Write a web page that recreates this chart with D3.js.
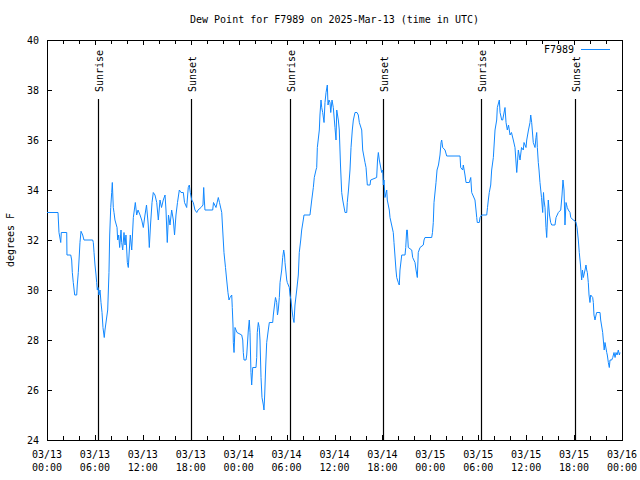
<!DOCTYPE html>
<html>
<head>
<meta charset="utf-8">
<script src="https://cdn.jsdelivr.net/npm/d3@7"></script>
<style>
  html, body { margin: 0; padding: 0; background: #fff; }
  svg { display: block; }
  text { font-family: "DejaVu Sans Mono", "Liberation Mono", monospace; font-size: 10px; fill: #000; }
</style>
</head>
<body>
<svg id="chart" width="640" height="480"></svg>
<script>
// ---- data (hours since 2025-03-13 00:00 UTC, dew point in °F) ----
const hours = [0,1.38,1.50,1.72,1.79,2.47,2.50,2.97,3.09,3.17,3.29,3.47,3.72,3.79,3.92,4.01,4.13,4.26,4.47,4.63,5.72,5.80,5.89,6.01,6.14,6.22,6.30,6.39,6.51,6.64,6.76,6.89,7.01,7.17,7.26,7.60,7.76,7.85,7.98,8.10,8.18,8.30,8.39,8.51,8.77,8.85,8.98,9.10,9.27,9.35,9.48,9.64,9.77,9.89,10.06,10.18,10.31,10.43,10.61,10.81,11.06,11.23,11.40,11.65,11.86,12.06,12.27,12.46,12.68,12.81,12.96,13.15,13.31,13.52,13.74,13.94,14.15,14.34,14.56,14.78,14.90,15.06,15.21,15.40,15.61,15.82,15.97,16.15,16.34,16.57,16.78,17.07,17.22,17.49,17.69,17.82,17.94,18.12,18.32,18.53,18.75,18.91,19.28,19.53,19.62,19.70,19.78,20.75,20.85,21.16,21.45,21.60,21.88,22.00,22.16,22.35,22.50,22.66,22.79,22.92,23.13,23.20,23.29,23.33,23.42,23.54,23.79,24.38,24.51,24.58,24.67,24.92,25.01,25.21,25.33,25.42,25.54,25.63,25.76,26.17,26.26,26.33,26.46,26.58,26.67,26.80,26.92,27.09,27.17,27.26,27.39,27.51,27.71,27.84,28.26,28.34,28.49,28.61,28.76,28.86,28.96,29.09,29.18,29.39,29.51,29.64,29.74,29.80,30.02,30.09,30.34,30.43,30.55,30.68,30.80,30.93,31.05,31.27,31.47,31.59,31.77,31.89,32.09,32.18,32.93,33.15,33.35,33.47,33.68,33.77,33.85,34.10,34.18,34.31,34.40,34.52,34.69,34.81,34.94,35.10,35.19,35.31,35.44,35.53,35.69,35.85,36.06,36.19,36.28,36.48,36.60,36.75,36.90,37.03,37.32,37.53,37.60,37.75,37.94,38.07,38.23,38.36,38.57,38.82,38.98,39.11,39.41,39.53,39.82,39.95,40.11,40.45,40.53,41.28,41.39,41.49,41.61,41.91,42.04,42.11,42.20,42.32,42.54,42.61,42.86,42.95,43.36,43.45,43.70,43.79,43.99,44.11,44.20,44.42,44.83,44.92,45.04,45.12,45.24,45.67,45.79,46.08,46.21,46.37,46.49,46.71,47.12,47.21,47.33,48.17,48.27,48.37,48.46,48.71,48.84,49.02,49.21,49.34,49.42,49.55,49.84,50.05,51.72,51.80,52.05,52.13,52.34,52.47,52.88,53.06,53.18,53.59,53.72,53.81,53.88,54.13,54.22,54.43,55.06,55.16,55.26,55.38,55.56,55.68,55.89,56.10,56.31,56.39,56.64,56.73,56.94,57.06,57.35,57.48,57.64,57.79,57.98,58.16,58.39,58.60,58.82,59.02,59.23,59.42,59.64,59.73,59.98,60.07,60.29,60.48,60.57,60.69,60.89,61.11,61.23,61.32,61.40,61.52,61.61,61.73,61.92,62.07,62.17,62.23,62.36,62.48,62.57,62.77,62.92,63.07,63.20,63.61,63.74,64.03,64.33,64.49,64.61,64.74,64.86,64.99,65.15,65.28,65.49,65.58,65.90,65.99,66.24,66.37,66.53,66.65,66.80,66.95,67.05,67.16,67.37,67.49,67.58,67.66,67.78,67.87,67.99,68.08,68.33,68.41,68.49,68.62,68.75,68.83,69.25,69.33,69.58,69.66,69.77,69.87,70.09,70.16,70.29,70.41,70.50,70.71,70.84,71.00,71.13,71.25,71.38,71.54,71.67,71.75];
const dewPoint = [33.1,33.1,32.3,31.9,32.3,32.3,31.4,31.4,31.2,30.7,30.3,29.8,29.8,30.2,30.7,31.2,31.9,32.35,32.2,32.0,32.0,31.9,31.5,31.0,30.6,30.3,30.0,30.1,29.8,30.0,29.5,29.1,28.5,28.1,28.4,29.2,30.7,32.2,33.3,33.9,34.3,33.3,33.1,32.8,32.5,32.0,32.2,31.7,32.4,31.9,31.6,32.3,31.8,32.2,31.1,30.9,31.6,32.2,31.6,32.9,33.5,33.0,33.2,33.0,32.8,32.5,33.0,33.4,32.6,31.7,32.6,33.5,33.9,33.8,33.5,32.8,33.6,33.3,33.6,33.8,33.2,31.9,33.0,32.6,33.2,32.8,32.2,33.0,33.5,34.0,33.9,33.9,33.5,33.3,34.1,34.2,33.9,33.6,33.5,33.2,33.1,33.2,33.3,33.4,34.1,33.6,33.2,33.2,33.5,33.3,33.7,33.5,33.1,32.4,31.5,30.9,30.4,29.9,29.6,29.7,29.8,29.3,28.6,27.9,27.5,28.5,28.3,28.2,28.0,27.5,27.2,27.2,27.4,28.4,28.8,28.3,26.7,26.2,26.9,26.9,27.3,28.3,28.7,28.5,28.0,26.5,25.7,25.4,25.2,25.8,27.0,27.9,28.4,28.7,28.7,29.0,29.4,29.7,29.5,29.0,29.2,29.7,30.3,30.8,31.3,31.6,31.4,31.1,30.4,30.3,30.1,29.8,29.6,29.2,28.9,28.7,29.4,30.0,30.6,31.5,32.0,32.4,32.8,33.0,33.0,33.6,34.1,34.5,34.8,34.9,35.7,36.4,37.0,37.6,37.3,37.1,36.7,37.5,37.9,38.2,37.4,37.6,37.5,37.1,37.6,37.3,36.5,36.0,37.2,36.8,36.4,35.0,33.9,33.6,33.1,33.1,33.5,34.0,34.8,35.7,36.4,36.8,37.1,37.1,37.0,36.7,36.4,35.6,35.1,34.9,34.2,34.2,34.4,34.5,35.2,35.5,35.2,34.7,34.8,34.2,34.4,33.7,34.0,33.6,33.2,32.9,32.3,31.9,30.8,30.5,30.3,30.2,30.8,31.4,31.4,31.7,32.4,32.4,31.7,31.6,31.3,31.1,30.8,30.5,31.5,31.7,31.8,32.0,32.1,32.1,32.3,32.7,33.5,34.3,34.8,35.0,35.4,35.9,36.0,35.7,35.6,35.36,35.36,34.9,34.8,35.0,34.6,34.3,34.3,34.5,33.9,33.6,33.2,32.9,32.7,32.7,32.9,33.0,33.0,33.3,33.6,33.9,34.2,34.8,35.3,36.4,36.8,37.3,37.6,37.1,36.8,36.8,37.3,36.7,36.4,36.6,36.2,36.3,36.0,35.7,34.7,35.6,35.2,35.7,35.6,35.9,35.7,36.0,36.4,36.7,37.0,36.7,35.9,35.7,36.1,36.3,35.7,35.1,34.8,34.3,33.7,33.1,33.9,33.6,33.3,32.5,32.1,33.6,33.0,32.7,32.6,32.6,32.9,33.1,33.2,33.8,34.4,34.0,32.6,33.5,33.3,33.2,33.1,32.9,32.8,32.8,32.7,32.5,32.0,31.5,31.0,30.4,30.8,30.5,30.8,31.0,30.8,30.7,30.3,29.8,29.5,29.8,29.7,29.5,29.0,28.8,29.0,29.1,29.1,28.8,28.3,28.0,27.6,27.9,27.5,27.4,27.1,26.9,27.2,27.2,27.3,27.5,27.3,27.5,27.4,27.6,27.4,27.5];
const sunriseHours = [6.42, 30.45, 54.38];
const sunsetHours = [18.07, 42.10, 66.15];
const yTicks = [24, 26, 28, 30, 32, 34, 36, 38, 40];
const seriesName = "F7989";
const titleText = "Dew Point for F7989 on 2025-Mar-13 (time in UTC)";
const yLabel = "degrees F";

// ---- drawing ----
const start = Date.UTC(2025, 2, 13);
const toDate = h => new Date(start + h * 3600000);
const margin = {left: 47, top: 40, right: 18, bottom: 40};
const W = 640, H = 480;
const iw = W - margin.left - margin.right, ih = H - margin.top - margin.bottom;

const svg = d3.select("#chart");
const g = svg.append("g").attr("transform", `translate(${margin.left},${margin.top})`);

const x = d3.scaleUtc().domain([toDate(0), toDate(72)]).range([0, iw]);
const y = d3.scaleLinear().domain([24, 40]).range([ih, 0]);

const majorTicks = d3.range(0, 73, 6).map(toDate);
const minorTicks = d3.range(0, 73, 2).filter(h => h % 6 !== 0).map(toDate);
const fmtDate = d3.utcFormat("%m/%d"), fmtTime = d3.utcFormat("%H:%M");

// bottom axis
const xb = g.append("g").attr("transform", `translate(0,${ih})`)
  .call(d3.axisBottom(x).tickValues(majorTicks).tickSize(-5).tickFormat(""));
const xt = g.append("g").call(d3.axisTop(x).tickValues(majorTicks).tickSize(-5).tickFormat(""));
g.append("g").attr("transform", `translate(0,${ih})`)
  .call(d3.axisBottom(x).tickValues(minorTicks).tickSize(-4).tickFormat(""));
g.append("g").call(d3.axisTop(x).tickValues(minorTicks).tickSize(-4).tickFormat(""));
// labels
const lab = g.append("g").selectAll("text").data(majorTicks).join("text")
  .attr("x", d => x(d)).attr("y", ih + 18).attr("text-anchor", "middle");
lab.append("tspan").attr("x", d => x(d)).text(d => fmtDate(d));
lab.append("tspan").attr("x", d => x(d)).attr("dy", 13).text(d => fmtTime(d));

// y axes
g.append("g").call(d3.axisLeft(y).tickValues(yTicks).tickSize(-5).tickPadding(8).tickFormat(d3.format("d")));
g.append("g").attr("transform", `translate(${iw},0)`)
  .call(d3.axisRight(y).tickValues(yTicks).tickSize(-5).tickFormat(""));

g.selectAll(".domain").remove();
g.selectAll(".tick line").attr("stroke", "#000").attr("shape-rendering", "crispEdges");
g.selectAll(".tick text").attr("font-family", "DejaVu Sans Mono").attr("font-size", 10).attr("fill", "#000");

// border
g.append("rect").attr("x", 0.5).attr("y", 0.5).attr("width", iw).attr("height", ih)
  .attr("fill", "none").attr("stroke", "#000").attr("shape-rendering", "crispEdges");

// sunrise / sunset
const events = sunriseHours.map(h => ({h, t: "Sunrise"})).concat(sunsetHours.map(h => ({h, t: "Sunset"})));
const ev = g.append("g").selectAll("g").data(events).join("g");
ev.append("line").attr("x1", d => Math.round(x(toDate(d.h))) + 0.5).attr("x2", d => Math.round(x(toDate(d.h))) + 0.5)
  .attr("y1", 59).attr("y2", ih).attr("stroke", "#000").attr("stroke-width", 1.2);
ev.append("text").attr("transform", d => `translate(${x(toDate(d.h)) + 4.8},52) rotate(-90)`)
  .attr("text-anchor", "start").text(d => d.t);

// series line
const pts = hours.map((h, i) => [toDate(h), dewPoint[i]]);
g.append("path").datum(pts)
  .attr("fill", "none").attr("stroke", "#1188ff").attr("stroke-width", 1)
  .attr("d", d3.line().x(d => x(d[0])).y(d => y(d[1])));

// legend
g.append("text").attr("x", 527).attr("y", 13).attr("text-anchor", "end").text(seriesName);
g.append("line").attr("x1", 534).attr("x2", 563).attr("y1", 9.5).attr("y2", 9.5)
  .attr("stroke", "#1188ff").attr("stroke-width", 1);

// title and y label
svg.append("text").attr("x", margin.left + iw / 2).attr("y", 23).attr("text-anchor", "middle").text(titleText);
svg.append("text").attr("transform", `translate(14,${margin.top + ih / 2}) rotate(-90)`)
  .attr("text-anchor", "middle").text(yLabel);
</script>
</body>
</html>
